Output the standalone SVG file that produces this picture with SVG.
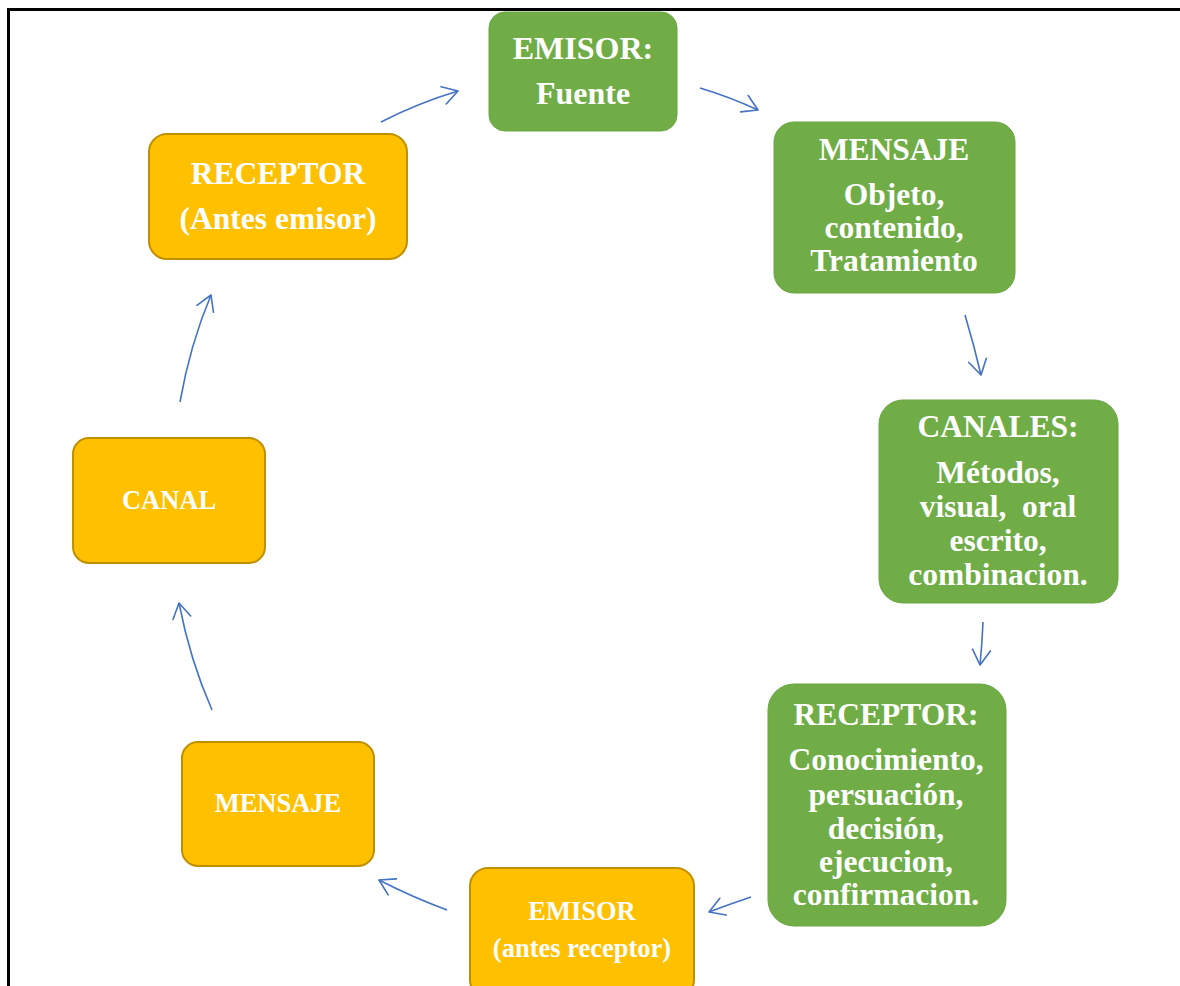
<svg xmlns="http://www.w3.org/2000/svg" width="1180" height="986" viewBox="0 0 1180 986">
  <defs>
    <marker id="arr" markerUnits="userSpaceOnUse" markerWidth="22" markerHeight="22" viewBox="0 0 22 22" refX="16" refY="11" orient="auto">
      <path d="M1,2 L16,11 L1,20" fill="none" stroke="#4472C4" stroke-width="1.6" stroke-linecap="round" stroke-linejoin="round"/>
    </marker>
  </defs>
  <style>
    .g { fill: #70AD47; stroke: #6AA643; stroke-width: 1; }
    .o { fill: #FFC000; stroke: #C09000; stroke-width: 2; }
    .t { font-family: "Liberation Serif", "Times New Roman", serif; font-weight: bold; fill: #FFFFFF; text-anchor: middle; }
    .big { font-size: 31.5px; }
    .sm { font-size: 26.5px; }
    .c { fill: none; stroke: #4472C4; stroke-width: 1.6; marker-end: url(#arr); }
  </style>
  <rect x="0" y="0" width="1180" height="986" fill="#FFFFFF"/>
  <rect x="8.5" y="9.5" width="1200" height="1000" fill="none" stroke="#000000" stroke-width="3"/>

  <g id="connectors">
    <path class="c" d="M381,122 Q418,103 458,91"/>
    <path class="c" d="M700,88 Q730,97 758,110"/>
    <path class="c" d="M965,315 Q974,345 981,375"/>
    <path class="c" d="M983,622 Q982,645 980,665"/>
    <path class="c" d="M751,897 Q730,904 709,912"/>
    <path class="c" d="M447,910 Q412,897 379,880"/>
    <path class="c" d="M212,710 Q190,660 179,603"/>
    <path class="c" d="M180,402 Q190,345 211,295"/>
  </g>

  <g id="emisor-fuente">
    <rect class="g" x="489" y="12" width="188" height="119" rx="16"/>
    <text class="t big" x="583" y="59" style="font-size:32px">EMISOR:</text>
    <text class="t big" x="583" y="104" style="font-size:32px">Fuente</text>
  </g>

  <g id="mensaje-verde">
    <rect class="g" x="774" y="122" width="241" height="171" rx="20"/>
    <text class="t big" x="894" y="160">MENSAJE</text>
    <text class="t big" x="894" y="205">Objeto,</text>
    <text class="t big" x="894" y="238">contenido,</text>
    <text class="t big" x="894" y="271">Tratamiento</text>
  </g>

  <g id="canales">
    <rect class="g" x="879" y="400" width="239" height="203" rx="24"/>
    <text class="t big" x="998" y="437">CANALES:</text>
    <text class="t big" x="998" y="483">Métodos,</text>
    <text class="t big" x="998" y="517" xml:space="preserve">visual,  oral</text>
    <text class="t big" x="998" y="551">escrito,</text>
    <text class="t big" x="998" y="585">combinacion.</text>
  </g>

  <g id="receptor-verde">
    <rect class="g" x="768" y="684" width="238" height="242" rx="26"/>
    <text class="t big" x="886" y="725">RECEPTOR:</text>
    <text class="t big" x="886" y="770">Conocimiento,</text>
    <text class="t big" x="886" y="805">persuación,</text>
    <text class="t big" x="886" y="839">decisión,</text>
    <text class="t big" x="886" y="872">ejecucion,</text>
    <text class="t big" x="886" y="905">confirmacion.</text>
  </g>

  <g id="emisor-naranja">
    <rect class="o" x="470" y="868" width="224" height="130" rx="18"/>
    <text class="t sm" x="582" y="920">EMISOR</text>
    <text class="t sm" x="582" y="957">(antes receptor)</text>
  </g>

  <g id="mensaje-naranja">
    <rect class="o" x="182" y="742" width="192" height="124" rx="16"/>
    <text class="t sm" x="278" y="812">MENSAJE</text>
  </g>

  <g id="canal">
    <rect class="o" x="73" y="438" width="192" height="125" rx="16"/>
    <text class="t sm" x="169" y="509">CANAL</text>
  </g>

  <g id="receptor-naranja">
    <rect class="o" x="149" y="134" width="258" height="125" rx="18"/>
    <text class="t big" x="278" y="184">RECEPTOR</text>
    <text class="t big" x="278" y="229">(Antes emisor)</text>
  </g>
</svg>
